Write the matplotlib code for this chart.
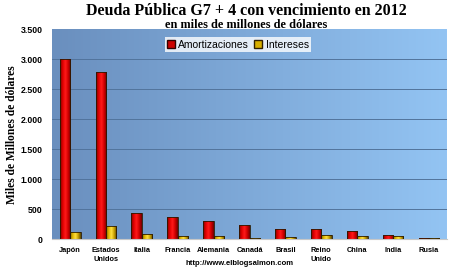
import numpy as np
import matplotlib.pyplot as plt
from matplotlib.colors import LinearSegmentedColormap
from matplotlib.patches import Patch

paises = ['Japón', 'Estados\nUnidos', 'Italia', 'Francia', 'Alemania', 'Canadá',
          'Brasil', 'Reino\nUnido', 'China', 'India', 'Rusia']
amortizaciones = [3000, 2790, 438, 372, 293, 227, 172, 167, 127, 67, 22]
intereses = [118, 218, 77, 55, 50, 15, 38, 72, 50, 45, 20]
yticks = [0, 500, 1000, 1500, 2000, 2500, 3000, 3500]
ytick_labels = ['0', '500', '1.000', '1.500', '2.000', '2.500', '3.000', '3.500']

fig = plt.figure(figsize=(4.5, 2.77), dpi=100)
ax = fig.add_axes([0.116, 0.137, 0.877, 0.758])

x = np.arange(len(paises))
w = 0.29

# blue gradient background
bg = LinearSegmentedColormap.from_list('bg', ['#6a8fbe', '#93c4f3'])
ax.imshow(np.linspace(0, 1, 256).reshape(1, -1), cmap=bg, aspect='auto',
          extent=[-0.5, len(paises) - 0.5, 0, 3500], zorder=0)

for t in yticks[1:-1]:
    ax.axhline(t, color='#52749c', linewidth=0.7, zorder=1)

# cylinder-like shading for the bars
red_cm = LinearSegmentedColormap.from_list('r', ['#800000', '#e00000', '#ff1a1a', '#d00000', '#700000'])
gold_cm = LinearSegmentedColormap.from_list('g', ['#806000', '#e0b800', '#ffe040', '#c8a000', '#5a4400'])
shade = np.linspace(0, 1, 64).reshape(1, -1)


def draw_bars(xs, vals, cmap):
    bars = ax.bar(xs, vals, w, align='edge', color='none', edgecolor='#2a1a00',
                  linewidth=0.6, zorder=3)
    for b in bars:
        x0, y0 = b.get_x(), b.get_y()
        im = ax.imshow(shade, cmap=cmap, aspect='auto',
                       extent=[x0, x0 + b.get_width(), y0, y0 + b.get_height()], zorder=2)
        im.set_clip_path(b)
    return bars


draw_bars(x - w, amortizaciones, red_cm)
draw_bars(x, intereses, gold_cm)

ax.set_xlim(-0.5, len(paises) - 0.5)
ax.set_ylim(0, 3500)
ax.set_yticks(yticks)
ax.set_yticklabels(ytick_labels, fontsize=6.3, fontweight='bold', family='Liberation Sans')
ax.set_xticks(x)
ax.set_xticklabels(paises, fontsize=5.3, fontweight='bold', family='Liberation Sans',
                   linespacing=1.4)
ax.tick_params(axis='y', length=0, pad=7)
ax.tick_params(axis='x', length=0, pad=6)
for s in ['top', 'right', 'left']:
    ax.spines[s].set_visible(False)
ax.spines['bottom'].set_color('#c8c8c8')

fig.text(0.026, 0.514, 'Miles de Millones de dólares', rotation=90, ha='center', va='center',
         fontsize=8.3, fontweight='bold', family='Liberation Serif')

leg = ax.legend(handles=[Patch(facecolor='#cc0000', edgecolor='#300000', label='Amortizaciones'),
                         Patch(facecolor='#d8b000', edgecolor='#302000', label='Intereses')],
                loc='upper center', ncol=2, frameon=True, fancybox=False,
                prop={'family': 'Liberation Sans', 'size': 7.5}, handlelength=0.8,
                handleheight=0.8, handletextpad=0.3, columnspacing=0.5,
                borderpad=0.2, bbox_to_anchor=(0.47, 0.985))
leg.get_frame().set_edgecolor('white')
leg.get_frame().set_linewidth(0)

fig.text(0.548, 0.99, 'Deuda Pública G7 + 4 con vencimiento en 2012', ha='center', va='top',
         fontsize=11.5, fontweight='bold', family='Liberation Serif')
fig.text(0.547, 0.932, 'en miles de millones de dólares', ha='center', va='top',
         fontsize=8.8, fontweight='bold', family='Liberation Serif')
fig.text(0.533, 0.05, 'http://www.elblogsalmon.com', ha='center', va='center',
         fontsize=5.5, fontweight='bold', family='Liberation Sans')

fig.savefig('out.png', dpi=100)
